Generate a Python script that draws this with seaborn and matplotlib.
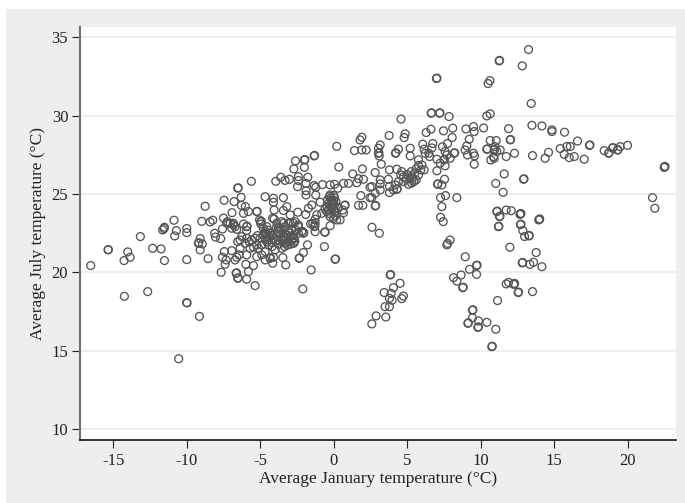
import matplotlib
matplotlib.use('Agg')
import matplotlib.pyplot as plt
from matplotlib.patches import Rectangle
import pandas as pd
import seaborn as sns

# (january, july) mean temperature; repeats are overlapping stations
cold_stations = [
    (-16.55, 20.44), (-15.37, 21.44), (-15.35, 21.46), (-14.03, 21.31), (-14.28, 20.76), (-13.87, 20.97),
    (-14.26, 18.48), (-12.67, 18.78), (-13.17, 22.29), (-12.33, 21.54), (-11.76, 21.5), (-11.53, 20.76),
    (-10.01, 20.82), (-9.99, 18.06), (-10.02, 18.08), (-9.15, 17.2), (-10.56, 14.5), (-8.56, 20.88),
    (-9.1, 21.44), (-9.1, 22.16), (-9.22, 21.86), (-9.19, 21.9), (-8.95, 21.82), (-10.72, 22.67),
    (-10.83, 22.33), (-10.01, 22.8), (-10.01, 22.54), (-11.53, 22.88), (-11.65, 22.71), (-11.56, 22.8),
    (-10.88, 23.33), (-8.99, 23.26), (-8.42, 23.22), (-8.24, 23.33), (-8.76, 24.22), (-7.47, 24.6),
    (-8.11, 22.5), (-8.06, 22.26), (-7.7, 22.16), (-7.58, 22.77), (-7.51, 23.47), (-7.24, 23.24),
    (-6.83, 23.03), (-6.93, 23.81), (-6.79, 24.52), (-6.54, 25.37), (-6.51, 25.4), (-6.31, 24.79),
    (-6.29, 24.28), (-6.02, 24.2), (-6.15, 23.77), (-5.81, 23.88), (-5.61, 25.81), (-6.61, 22.75),
    (-7.06, 23.13), (-6.15, 23.09), (-5.93, 22.92), (-5.9, 22.95), (-5.93, 22.67), (-5.25, 23.88),
    (-5.22, 23.9), (-5.06, 23.35), (-4.97, 23.09), (-4.68, 24.83), (-4.11, 24.73), (-4.11, 24.48),
    (-3.43, 24.77), (-4.06, 23.98), (-4.06, 23.41), (-3.2, 24.2), (-3.43, 23.95), (-3.95, 25.81),
    (-3.61, 26.07), (-3.32, 25.87), (-3.02, 25.94), (-2.61, 27.11), (-2.0, 27.17), (-1.97, 27.2),
    (-2.0, 26.7), (-2.72, 26.6), (-1.34, 27.43), (-1.31, 27.46), (-2.41, 26.11), (-2.41, 25.86),
    (-2.47, 25.47), (-1.77, 26.07), (-1.89, 25.68), (-1.89, 25.21), (-1.89, 24.94), (-1.34, 25.54),
    (-1.23, 25.43), (-1.23, 24.94),
]
central_stations = [
    (-0.77, 25.6), (-0.25, 25.58), (0.05, 25.62), (0.27, 25.37), (0.66, 25.68), (1.0, 25.68),
    (1.57, 25.72), (1.29, 26.28), (1.68, 25.98), (2.02, 25.94), (1.95, 26.6), (0.34, 26.72),
    (0.2, 28.04), (1.41, 27.77), (1.91, 27.81), (2.2, 27.81), (1.79, 28.45), (1.91, 28.62),
    (1.84, 24.9), (1.68, 24.28), (1.98, 24.28), (2.47, 25.43), (2.47, 24.77), (2.6, 22.88),
    (3.1, 22.5), (-0.3, 24.83), (-0.43, 24.62), (-0.14, 24.52), (-0.25, 24.94), (-0.02, 24.41),
    (-0.36, 23.98), (-1.16, 23.67), (-0.82, 23.77), (-0.48, 23.88), (-0.25, 23.56), (0.43, 23.35),
    (0.77, 24.3), (0.74, 24.27), (0.61, 23.98), (0.2, 23.35), (-0.02, 23.46), (-1.5, 24.3),
    (-0.93, 24.48), (-1.73, 24.09), (-1.91, 23.7), (-2.45, 23.84), (-2.97, 23.67), (0.66, 23.81),
    (-1.43, 23.13), (-1.27, 23.39), (-1.57, 23.1), (-1.27, 22.6), (-0.59, 22.56), (-0.62, 22.58),
    (-0.25, 22.98), (-1.32, 22.92), (-1.29, 22.95), (-1.27, 23.13), (0.0, 24.9), (0.0, 24.6),
    (0.05, 24.3), (-0.1, 24.1), (0.1, 23.9), (0.1, 23.6), (-0.14, 24.6), (0.0, 24.0), (-2.36, 20.9),
    (-2.33, 20.93), (-2.07, 21.27), (-1.79, 21.76), (-0.64, 21.65), (0.09, 20.84), (0.12, 20.86),
    (-1.54, 20.16), (-2.11, 18.95), (-0.2, 24.75), (-0.35, 24.4), (-0.1, 24.3), (-0.45, 24.2),
    (-0.2, 24.15), (0.05, 24.75), (0.15, 24.5), (-0.6, 24.05), (-0.3, 23.75), (0.3, 24.1),
]
dense_stations = [
    (-6.54, 21.97), (-6.38, 22.07), (-7.45, 21.33), (-7.58, 20.97), (-7.33, 20.8), (-7.4, 20.52),
    (-7.67, 20.01), (-6.95, 21.39), (-6.61, 20.97), (-6.72, 20.8), (-6.45, 21.12), (-6.65, 19.95),
    (-6.62, 19.98), (-6.54, 19.63), (-6.51, 19.66), (-5.93, 19.57), (-5.36, 19.16), (-5.81, 20.06),
    (-5.99, 20.52), (-5.47, 20.44), (-5.93, 21.12), (-5.25, 21.01), (-4.9, 21.12), (-4.68, 20.8),
    (-4.34, 20.9), (-4.31, 20.93), (-4.16, 20.59), (-4.11, 20.97), (-3.47, 20.95), (-3.27, 20.48),
    (-4.0, 21.44), (-4.68, 21.33), (-5.13, 21.54), (-5.47, 21.61), (-5.7, 21.54), (-6.04, 21.86),
    (-6.38, 21.54), (-5.59, 22.07), (-5.36, 22.18), (-5.02, 22.18), (-4.9, 21.76), (-4.45, 21.76),
    (-4.68, 22.61), (-4.56, 22.29), (-4.79, 22.39), (-4.34, 22.5), (-4.45, 22.07), (-4.11, 22.18),
    (-3.77, 22.07), (-3.54, 21.54), (-3.32, 21.86), (-3.09, 21.97), (-2.75, 21.86), (-2.72, 21.89),
    (-2.97, 22.29), (-3.43, 22.29), (-3.77, 22.61), (-3.88, 23.14), (-3.54, 23.24), (-3.32, 22.92),
    (-3.09, 22.61), (-2.75, 22.39), (-2.41, 22.5), (-2.07, 22.5), (-2.04, 22.53), (-2.97, 23.14),
    (-2.63, 23.24), (-2.41, 22.92), (-3.65, 22.82), (-4.97, 23.24), (-4.94, 23.27), (-4.16, 23.46),
    (-6.83, 23.14), (-7.29, 23.14), (-6.95, 22.82), (-6.72, 22.92), (-6.27, 22.29), (-5.93, 22.18),
    (-3.43, 23.14), (-3.77, 22.82), (-3.1, 23.14), (-2.75, 23.14), (-2.41, 23.03), (-2.18, 22.6),
    (-2.15, 22.63), (-2.97, 22.5), (-2.75, 22.18), (-2.72, 22.21), (-4.56, 22.92), (-4.68, 22.5),
    (-4.34, 22.5), (-4.79, 22.82), (-4.6, 22.5), (-4.5, 22.7), (-4.4, 22.3), (-4.65, 22.1),
    (-4.25, 22.35), (-4.55, 21.95), (-4.2, 21.9), (-3.95, 22.0), (-3.85, 22.3), (-3.6, 22.45),
    (-3.6, 22.15), (-3.4, 22.05), (-3.25, 22.25), (-3.15, 21.75), (-2.95, 21.8), (-3.75, 21.8),
    (-3.35, 21.65), (-2.85, 22.05), (-2.65, 22.0), (-2.9, 22.75), (-3.2, 22.4), (-3.55, 22.7),
    (-4.2, 21.65), (-5.2, 22.35), (-5.25, 21.75), (-5.75, 21.95), (-3.9, 22.85), (-2.6, 22.7),
]
mild_stations = [
    (2.82, 26.37), (3.16, 28.13), (3.04, 27.92), (3.04, 27.6), (3.07, 27.63), (3.09, 27.43),
    (3.23, 26.9), (3.77, 28.73), (4.86, 28.84), (4.79, 28.6), (4.2, 27.6), (4.23, 27.63),
    (4.4, 27.86), (5.2, 27.92), (5.2, 27.43), (3.79, 26.54), (3.16, 25.9), (3.16, 25.65),
    (3.72, 25.94), (3.79, 25.48), (3.79, 25.09), (2.59, 25.48), (3.16, 25.26), (2.82, 25.05),
    (2.59, 24.77), (2.82, 24.24), (2.85, 24.27), (4.29, 26.58), (4.63, 26.43), (4.56, 26.22),
    (4.4, 25.79), (4.75, 25.79), (4.29, 25.3), (4.32, 25.33), (4.18, 25.58), (4.06, 25.26),
    (5.27, 26.43), (5.2, 26.11), (5.09, 25.62), (5.43, 25.79), (5.46, 25.82), (5.61, 25.9),
    (5.77, 27.18), (5.77, 26.82), (5.93, 26.54), (6.15, 26.54), (5.77, 26.22), (6.06, 28.18),
    (6.15, 27.86), (6.22, 27.6), (6.52, 27.39), (6.47, 27.6), (6.74, 28.22), (6.68, 27.94),
    (6.29, 28.92), (6.61, 29.13), (7.47, 29.03), (8.1, 29.2), (8.06, 28.6), (7.74, 28.22),
    (7.4, 28.01), (7.58, 27.71), (7.7, 27.49), (8.2, 27.6), (8.23, 27.63), (7.92, 27.28),
    (7.5, 27.18), (7.53, 27.21), (7.02, 27.22), (7.24, 26.97), (7.58, 26.8), (7.02, 26.48),
    (7.54, 25.94), (7.06, 25.62), (7.09, 25.65), (7.36, 25.58), (7.27, 24.77), (7.61, 24.9),
    (8.38, 24.77), (7.36, 24.2), (7.27, 23.52), (7.45, 23.24), (7.92, 22.07), (7.7, 21.76),
    (7.74, 21.85), (3.84, 19.84), (3.87, 19.87), (4.51, 19.31), (4.06, 19.03), (3.43, 18.72),
    (3.9, 18.67), (3.79, 18.35), (3.97, 18.23), (4.74, 18.5), (4.63, 18.33), (3.49, 17.82),
    (3.79, 17.82), (3.54, 17.16), (2.88, 17.23), (2.59, 16.72), (5.0, 26.25), (5.35, 26.05),
    (5.5, 26.3), (4.95, 25.95), (5.3, 25.7), (4.75, 26.1), (6.0, 26.85), (5.6, 26.6),
]
warm_stations = [
    (6.99, 32.36), (7.02, 32.39), (11.26, 33.49), (11.29, 33.52), (12.83, 33.17), (13.26, 34.21),
    (10.51, 32.04), (10.63, 32.23), (13.44, 30.77), (6.63, 30.15), (6.66, 30.18), (7.2, 30.15),
    (7.23, 30.18), (7.85, 29.94), (4.58, 29.78), (10.42, 29.98), (10.65, 30.11), (13.49, 29.38),
    (14.17, 29.34), (14.85, 29.09), (14.85, 28.98), (15.71, 28.94), (16.6, 28.38), (17.41, 28.1),
    (17.44, 28.13), (11.9, 29.17), (12.01, 28.45), (12.04, 28.48), (10.2, 29.21), (9.51, 29.3),
    (9.56, 28.98), (9.0, 29.15), (9.22, 28.49), (9.06, 28.07), (8.94, 27.81), (9.1, 27.49),
    (9.51, 27.6), (9.58, 27.43), (9.56, 26.9), (10.65, 28.41), (11.06, 28.41), (10.42, 27.85),
    (10.45, 27.88), (10.92, 27.81), (10.95, 27.84), (10.99, 28.02), (11.33, 27.81), (11.1, 27.7),
    (10.88, 27.38), (10.69, 27.17), (10.92, 27.28), (11.74, 27.39), (12.3, 27.6), (13.53, 27.45),
    (14.39, 27.28), (14.62, 27.66), (15.42, 27.9), (15.69, 27.53), (15.87, 28.03), (16.1, 28.03),
    (16.03, 27.32), (16.37, 27.39), (17.05, 27.22), (18.41, 27.77), (18.71, 27.6), (18.74, 27.63),
    (18.98, 27.93), (19.01, 27.96), (19.32, 27.8), (19.35, 27.83), (19.5, 28.02), (20.0, 28.1),
    (22.52, 26.73), (22.55, 26.76), (22.5, 26.7), (21.7, 24.77), (21.86, 24.09), (11.6, 26.28),
    (11.03, 25.68), (12.92, 25.94), (12.95, 25.97), (11.53, 25.11), (11.1, 23.88), (11.13, 23.91),
    (11.28, 23.56), (11.31, 23.59), (11.21, 22.92), (11.24, 22.95), (11.74, 23.98), (12.08, 23.94),
    (12.71, 23.73), (12.74, 23.76), (12.68, 23.7), (13.99, 23.38), (14.02, 23.41), (13.96, 23.35),
    (12.71, 23.05), (12.74, 23.08), (12.87, 22.67), (13.28, 22.33), (13.31, 22.36), (12.99, 22.29),
    (11.99, 21.61), (13.78, 21.27), (14.17, 20.37), (13.6, 20.65), (13.35, 20.52), (12.83, 20.61),
    (12.86, 20.64), (8.95, 21.0), (9.24, 20.2), (9.72, 20.44), (9.75, 20.47), (9.72, 19.88),
    (8.15, 19.67), (8.67, 19.84), (8.38, 19.45), (8.78, 19.03), (8.81, 19.06), (9.44, 17.59),
    (9.47, 17.62), (9.44, 17.11), (9.13, 16.76), (9.16, 16.79), (9.85, 16.91), (9.81, 16.5),
    (9.84, 16.53), (10.42, 16.82), (11.03, 16.38), (10.76, 15.27), (10.79, 15.3), (11.15, 18.21),
    (11.74, 19.27), (11.9, 19.37), (12.28, 19.27), (12.31, 19.3), (12.25, 19.24), (12.55, 18.72),
    (12.58, 18.75), (13.53, 18.78),
]
x_ticks = [-15, -10, -5, 0, 5, 10, 15, 20]
y_ticks = [10, 15, 20, 25, 30, 35]

stations = cold_stations + central_stations + dense_stations + mild_stations + warm_stations
df = pd.DataFrame(stations, columns=['january', 'july'])

W, H = 685, 503
sns.set_style('white')
plt.rcParams['font.family'] = ['Liberation Serif', 'DejaVu Serif']
plt.rcParams['axes.unicode_minus'] = False

fig = plt.figure(figsize=(W / 100, H / 100), dpi=100, facecolor='white')
fig.patches.append(Rectangle((6 / W, 0), 1 - 6 / W, 1 - 9 / H, transform=fig.transFigure,
                             facecolor='#eeeeee', edgecolor='none', zorder=-5))
ax = fig.add_axes([80 / W, (H - 440) / H, (676 - 80) / W, (440 - 26.5) / H])
ax.set_facecolor('white')

sns.scatterplot(data=df, x='january', y='july', ax=ax, marker='o', s=32,
                facecolor='none', edgecolor='#555555', linewidth=0.95, zorder=3)

ax.set_xlim(-17.28, 23.3)
ax.set_ylim(9.32, 35.68)
ax.set_xticks(x_ticks)
ax.set_yticks(y_ticks)
ax.grid(True, axis='y', color='#eaeaea', linewidth=1.1)
ax.set_axisbelow(True)

for side in ['top', 'right']:
    ax.spines[side].set_visible(False)
ax.spines['left'].set_color('#707070')
ax.spines['left'].set_linewidth(1.5)
ax.spines['bottom'].set_color('black')
ax.spines['bottom'].set_linewidth(1.1)

ax.tick_params(axis='both', length=5.5, width=0.8, color='#222222', labelsize=12,
               labelcolor='#222222', left=True, bottom=True)
ax.tick_params(axis='x', pad=4)
ax.tick_params(axis='y', pad=3)
ax.set_xlabel('Average January temperature (°C)', fontsize=12.5, color='#222222', labelpad=1.5)
ax.set_ylabel('Average July temperature (°C)', fontsize=12.5, color='#222222', labelpad=4)

fig.savefig('out.png', dpi=100, facecolor=fig.get_facecolor())
